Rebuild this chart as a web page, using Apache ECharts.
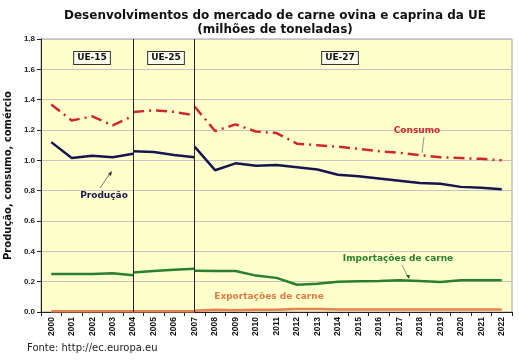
<!DOCTYPE html>
<html>
<head>
<meta charset="utf-8">
<script src="https://cdn.jsdelivr.net/npm/echarts@6/dist/echarts.min.js"></script>
<style>html,body{margin:0;padding:0;background:#fff}#c{width:519px;height:362px}</style>
</head>
<body>
<div id="c"></div>
<script>
// Categories (years)
const years = ['2000','2001','2002','2003','2004','2005','2006','2007','2008','2009','2010','2011','2012','2013','2014','2015','2016','2017','2018','2019','2020','2021','2022'];
const yTicks = [0, 0.2, 0.4, 0.6, 0.8, 1.0, 1.2, 1.4, 1.6, 1.8];

// Produção: UE-15 (2000-2004), UE-25 (2004-2007), UE-27 (2007-2022)
const prodUE15 = [1.12, 1.015, 1.03, 1.02, 1.044];
const prodUE25 = [1.06, 1.055, 1.035, 1.02];
const prodUE27 = [1.09, 0.935, 0.98, 0.965, 0.97, 0.955, 0.94, 0.905, 0.895, 0.88, 0.865, 0.85, 0.845, 0.825, 0.82, 0.81];

// Consumo
const consUE15 = [1.368, 1.263, 1.29, 1.23, 1.294];
const consUE25 = [1.318, 1.33, 1.32, 1.296];
const consUE27 = [1.355, 1.193, 1.237, 1.19, 1.18, 1.11, 1.10, 1.09, 1.075, 1.06, 1.05, 1.035, 1.02, 1.015, 1.01, 1.00];

// Importações de carne
const impUE15 = [0.25, 0.25, 0.25, 0.255, 0.243];
const impUE25 = [0.26, 0.27, 0.278, 0.285];
const impUE27 = [0.272, 0.27, 0.27, 0.24, 0.225, 0.18, 0.187, 0.2, 0.203, 0.205, 0.21, 0.205, 0.198, 0.21, 0.21, 0.21];

// Exportações de carne
const expUE15 = [0.005, 0.005, 0.005, 0.005, 0.005];
const expUE25 = [0.005, 0.005, 0.005, 0.005];
const expUE27 = [0.008, 0.015, 0.012, 0.015, 0.015, 0.02, 0.02, 0.017, 0.016, 0.016, 0.016, 0.016, 0.016, 0.016, 0.016, 0.016];

const periods = [
  {start: 0, name: 'UE-15'},
  {start: 4, name: 'UE-25'},
  {start: 7, name: 'UE-27'}
];

function pad(arr, start) {
  const out = years.map(() => null);
  arr.forEach((v, i) => { out[start + i] = v; });
  return out;
}

const groups = [
  {name: 'Produção', color: '#15154f', dash: 'solid', data: [prodUE15, prodUE25, prodUE27]},
  {name: 'Consumo', color: '#cc2a2a', dash: [11, 5, 2, 5], data: [consUE15, consUE25, consUE27]},
  {name: 'Importações de carne', color: '#2a7f2a', dash: 'solid', data: [impUE15, impUE25, impUE27]},
  {name: 'Exportações de carne', color: '#e8814e', dash: 'solid', data: [expUE15, expUE25, expUE27]}
];

const series = [];
groups.forEach(g => {
  g.data.forEach((arr, k) => {
    series.push({
      type: 'line', name: g.name + ' ' + periods[k].name,
      data: pad(arr, periods[k].start),
      symbol: 'none', connectNulls: false,
      lineStyle: {color: g.color, width: 2.5, type: g.dash},
      z: 3
    });
  });
});
series.push({
  type: 'line', data: [], silent: true,
  markLine: {
    symbol: 'none', silent: true, label: {show: false},
    lineStyle: {color: '#222', width: 1, type: 'solid'},
    data: [{xAxis: '2004'}, {xAxis: '2007'}]
  }
});

const chart = echarts.init(document.getElementById('c'), null, {renderer: 'canvas'});
const boxStyle = {font: 'bold 9px "DejaVu Sans"', fill: '#111', backgroundColor: '#fffff0', borderColor: '#333', borderWidth: 1, padding: [2, 3, 1, 3], align: 'center', verticalAlign: 'middle'};
chart.setOption({
  animation: false,
  backgroundColor: '#ffffff',
  grid: {left: 41, right: 7, top: 39, bottom: 50, show: true, backgroundColor: '#ffffcc', borderColor: '#a0a0a0', borderWidth: 1, containLabel: false, outerBoundsMode: 'none'},
  xAxis: {
    type: 'category', data: years, boundaryGap: true,
    axisLine: {lineStyle: {color: '#222', width: 1}},
    axisTick: {show: true, length: 4, lineStyle: {color: '#222'}},
    axisLabel: {rotate: 90, fontSize: 8.5, fontWeight: 'bold', fontFamily: 'Liberation Sans', color: '#111', margin: 5},
    splitLine: {show: false}
  },
  yAxis: {
    type: 'value', min: yTicks[0], max: yTicks[yTicks.length - 1], interval: 0.2,
    name: 'Produção, consumo, comércio', nameLocation: 'middle', nameGap: 25,
    nameTextStyle: {fontFamily: 'DejaVu Sans', fontWeight: 'bold', fontSize: 10, color: '#111'},
    axisLine: {show: true, lineStyle: {color: '#222', width: 1}},
    axisTick: {show: true, length: 4, lineStyle: {color: '#222'}},
    axisLabel: {fontSize: 8, fontFamily: 'Liberation Sans', fontWeight: 'bold', color: '#222', margin: 6, formatter: v => v.toFixed(1)},
    splitLine: {show: true, lineStyle: {color: '#c4c4c4', width: 1}}
  },
  series: series,
  graphic: [
    {type: 'text', x: 275, y: 16, style: {text: 'Desenvolvimentos do mercado de carne ovina e caprina da UE', font: 'bold 12px "DejaVu Sans"', fill: '#111', align: 'center', verticalAlign: 'middle'}},
    {type: 'text', x: 275, y: 30, style: {text: '(milhões de toneladas)', font: 'bold 12px "DejaVu Sans"', fill: '#111', align: 'center', verticalAlign: 'middle'}},
    {type: 'text', left: 27, top: 343, style: {text: 'Fonte: http://ec.europa.eu', font: '10px "DejaVu Sans"', fill: '#222'}},
    {type: 'text', x: 92, y: 58, z: 10, style: Object.assign({text: 'UE-15'}, boxStyle)},
    {type: 'text', x: 166, y: 58, z: 10, style: Object.assign({text: 'UE-25'}, boxStyle)},
    {type: 'text', x: 340, y: 58, z: 10, style: Object.assign({text: 'UE-27'}, boxStyle)},
    {type: 'text', x: 104, y: 196, z: 10, style: {text: 'Produção', font: 'bold 9px "DejaVu Sans"', fill: '#15154f', align: 'center', verticalAlign: 'middle'}},
    {type: 'line', z: 10, shape: {x1: 100, y1: 188, x2: 111, y2: 172}, style: {stroke: '#555', lineWidth: 0.8}},
    {type: 'polygon', z: 10, shape: {points: [[112, 171], [108, 174], [111, 176]]}, style: {fill: '#333'}},
    {type: 'text', x: 417, y: 131, z: 10, style: {text: 'Consumo', font: 'bold 9px "DejaVu Sans"', fill: '#cc2a2a', align: 'center', verticalAlign: 'middle'}},
    {type: 'line', z: 10, shape: {x1: 424, y1: 137, x2: 422, y2: 153}, style: {stroke: '#777', lineWidth: 0.8}},
    {type: 'text', x: 398, y: 259, z: 10, style: {text: 'Importações de carne', font: 'bold 9px "DejaVu Sans"', fill: '#2a7f2a', align: 'center', verticalAlign: 'middle'}},
    {type: 'line', z: 10, shape: {x1: 402, y1: 265, x2: 408, y2: 277}, style: {stroke: '#777', lineWidth: 0.8}},
    {type: 'polygon', z: 10, shape: {points: [[409, 279], [406, 275], [410, 275]]}, style: {fill: '#2a5f2a'}},
    {type: 'text', x: 269, y: 297, z: 10, style: {text: 'Exportações de carne', font: 'bold 9px "DejaVu Sans"', fill: '#e07b45', align: 'center', verticalAlign: 'middle'}}
  ]
});
</script>
</body>
</html>
